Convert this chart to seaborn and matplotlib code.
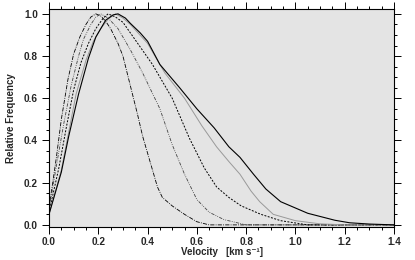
import matplotlib
matplotlib.use("Agg")
import matplotlib.pyplot as plt
import seaborn as sns
import pandas as pd
from matplotlib.ticker import MultipleLocator

# Data
vel_a = [0, 0.015, 0.03, 0.05, 0.077, 0.10, 0.125, 0.15, 0.17, 0.19, 0.21, 0.23, 0.25, 0.28, 0.30, 0.33, 0.36, 0.38, 0.41, 0.44, 0.46, 0.50, 0.55, 0.60, 0.65, 1.4]
frq_a = [0.08, 0.20, 0.32, 0.50, 0.69, 0.81, 0.89, 0.95, 0.985, 1.0, 0.99, 0.965, 0.93, 0.86, 0.80, 0.66, 0.52, 0.42, 0.30, 0.18, 0.13, 0.09, 0.05, 0.015, 0.0, 0.0]

vel_b = [0, 0.03, 0.06, 0.09, 0.12, 0.14, 0.17, 0.19, 0.21, 0.24, 0.28, 0.33, 0.38, 0.45, 0.50, 0.55, 0.60, 0.65, 0.71, 0.80, 1.4]
frq_b = [0.07, 0.28, 0.48, 0.66, 0.80, 0.88, 0.95, 0.985, 1.0, 0.98, 0.93, 0.83, 0.72, 0.55, 0.38, 0.24, 0.12, 0.06, 0.025, 0.0, 0.0]

vel_c = [0, 0.04, 0.07, 0.10, 0.13, 0.16, 0.19, 0.22, 0.24, 0.27, 0.30, 0.36, 0.42, 0.50, 0.57, 0.63, 0.68, 0.73, 0.78, 0.86, 0.94, 1.05, 1.4]
frq_c = [0.06, 0.27, 0.46, 0.64, 0.77, 0.86, 0.93, 0.98, 1.0, 0.985, 0.96, 0.86, 0.76, 0.60, 0.41, 0.27, 0.18, 0.13, 0.09, 0.05, 0.02, 0.0, 0.0]

vel_d = [0, 0.05, 0.08, 0.11, 0.15, 0.18, 0.21, 0.24, 0.27, 0.30, 0.33, 0.40, 0.47, 0.55, 0.62, 0.68, 0.73, 0.775, 0.82, 0.855, 0.91, 1.0, 1.1, 1.2, 1.4]
frq_d = [0.05, 0.26, 0.44, 0.62, 0.78, 0.87, 0.93, 0.975, 1.0, 0.98, 0.95, 0.86, 0.72, 0.60, 0.47, 0.37, 0.30, 0.24, 0.16, 0.11, 0.05, 0.02, 0.005, 0.0, 0.0]

vel_e = [0, 0.05, 0.08, 0.12, 0.16, 0.19, 0.23, 0.26, 0.28, 0.31, 0.33, 0.37, 0.40, 0.45, 0.53, 0.60, 0.67, 0.73, 0.775, 0.83, 0.88, 0.94, 1.0, 1.05, 1.1, 1.16, 1.22, 1.3, 1.4]
frq_e = [0.05, 0.25, 0.42, 0.62, 0.79, 0.89, 0.97, 0.995, 1.0, 0.98, 0.955, 0.91, 0.87, 0.76, 0.65, 0.55, 0.46, 0.37, 0.32, 0.24, 0.17, 0.11, 0.08, 0.055, 0.04, 0.022, 0.01, 0.004, 0.0]

x_ticks = [0.0, 0.2, 0.4, 0.6, 0.8, 1.0, 1.2, 1.4]
y_ticks = [0.0, 0.2, 0.4, 0.6, 0.8, 1.0]

sns.set_style("ticks")
plt.rcParams['font.family'] = ['Liberation Sans', 'DejaVu Sans']

fig = plt.figure(figsize=(4.15, 2.6), dpi=100)
ax = fig.add_axes([49/415, 1-227/260, (394-49)/415, (227-9)/260])
ax.set_facecolor('#e4e4e4')

curves = [
    (vel_a, frq_a, 'black', (0, (5, 1.5, 1, 1.5)), 0.6),
    (vel_b, frq_b, '#444444', (0, (4, 1.5, 1, 1.5, 1, 1.5)), 0.6),
    (vel_c, frq_c, 'black', (0, (2, 1.5)), 0.7),
    (vel_d, frq_d, '#999999', '-', 0.7),
    (vel_e, frq_e, 'black', '-', 0.8),
]
for v, f, c, ls, lw in curves:
    df = pd.DataFrame({'v': v, 'f': f})
    sns.lineplot(data=df, x='v', y='f', ax=ax, color=c, linewidth=lw,
                 linestyle=ls, sort=False, estimator=None)

ax.set_xlim(0, 1.4)
ax.set_ylim(-0.01, 1.023)
ax.set_xticks(x_ticks)
ax.set_yticks(y_ticks)
ax.set_xticklabels([f"{t:.1f}" for t in x_ticks], fontsize=7.2, fontweight='bold')
ax.set_yticklabels([f"{t:.1f}" for t in y_ticks], fontsize=7.2, fontweight='bold')
ax.xaxis.set_minor_locator(MultipleLocator(0.05))
ax.yaxis.set_minor_locator(MultipleLocator(0.05))
ax.tick_params(which='both', direction='out', top=True, right=True, width=0.7, color='black')
ax.tick_params(which='major', length=5)
ax.tick_params(which='minor', length=2.5)
ax.tick_params(axis='x', which='major', pad=2)
ax.tick_params(axis='y', which='major', pad=3)
ax.tick_params(axis='x', labeltop=False)
ax.tick_params(axis='y', labelright=False)
for s in ax.spines.values():
    s.set_linewidth(0.8)
    s.set_color('black')

ax.set_xlabel("Velocity   [km s\u207b\u00b9]", fontsize=7, fontweight='bold', labelpad=0)
ax.set_ylabel("Relative Frequency", fontsize=7, fontweight='bold', labelpad=6)

fig.savefig("out.png", dpi=100)
